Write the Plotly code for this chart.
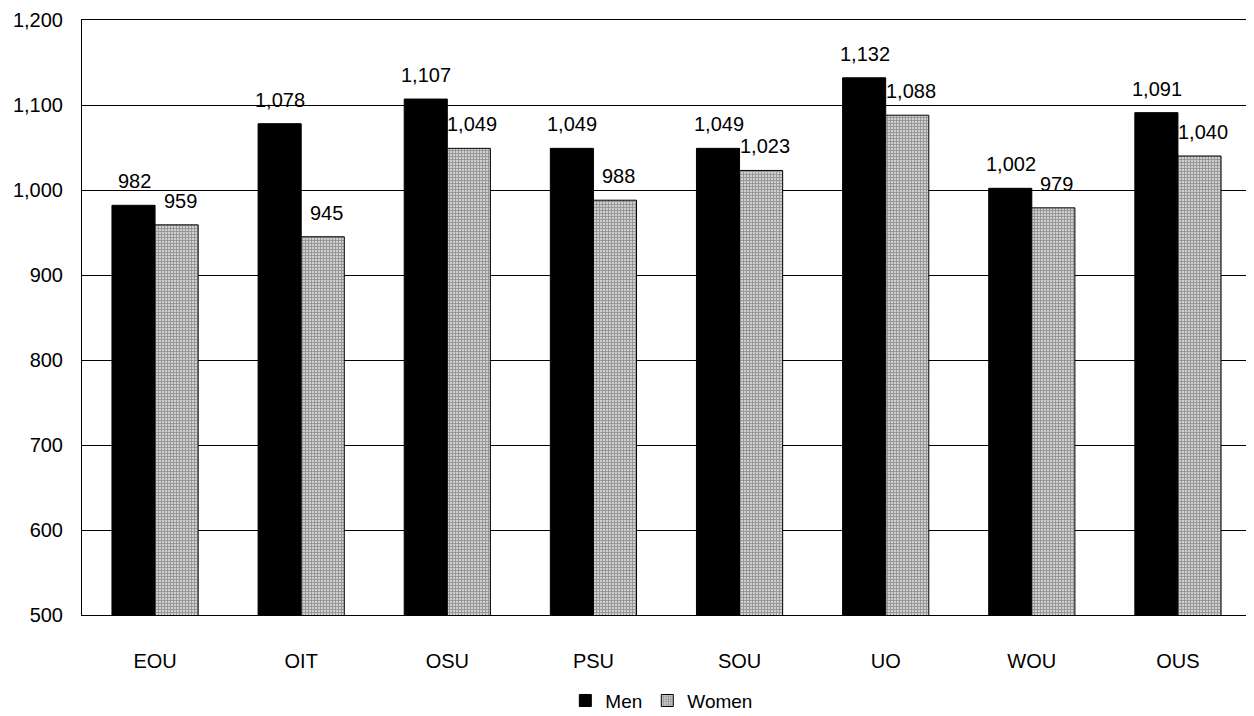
import plotly.graph_objects as go

categories = ["EOU", "OIT", "OSU", "PSU", "SOU", "UO", "WOU", "OUS"]
men = [982, 1078, 1107, 1049, 1049, 1132, 1002, 1091]
women = [959, 945, 1049, 988, 1023, 1088, 979, 1040]
y_ticks = [500, 600, 700, 800, 900, 1000, 1100, 1200]

font_family = "Liberation Sans, Arial, sans-serif"

fig = go.Figure()
fig.add_trace(go.Bar(
    x=categories, y=men, name="Men",
    marker=dict(color="black", line=dict(color="black", width=1)),
))
fig.add_trace(go.Bar(
    x=categories, y=women, name="Women",
    marker=dict(color="#a8a8a8", line=dict(color="black", width=1),
                pattern=dict(shape="+", size=3, solidity=0.5,
                             fgcolor="#555555", bgcolor="#d0d0d0")),
))

# value labels above bars
for series, shift in ((men, -21), (women, 25)):
    for c, v in zip(categories, series):
        fig.add_annotation(
            x=c, y=v, xref="x", yref="y", text=f"{v:,}", showarrow=False,
            xshift=shift, yshift=24, font=dict(size=20, color="black", family=font_family),
        )

fig.update_layout(
    width=1254, height=716,
    margin=dict(l=74, r=11, t=12, b=109, autoexpand=False),
    paper_bgcolor="white", plot_bgcolor="white",
    barmode="group", bargap=0.41, bargroupgap=0,
    font=dict(family=font_family, size=20, color="black"),
    showlegend=True,
    legend=dict(orientation="h", x=0.496, xanchor="center", y=-0.112, yanchor="top",
                font=dict(size=19), itemwidth=30, tracegroupgap=0),
)
fig.update_yaxes(
    range=[500, 1200], tickvals=y_ticks, tickformat=",",
    showgrid=True, gridcolor="black", gridwidth=1,
    showline=True, linecolor="black", linewidth=1, mirror=True,
    ticks="", ticklabelstandoff=14, tickfont=dict(size=20),
    zeroline=False, automargin=False,
)
fig.update_xaxes(
    showline=True, linecolor="black", linewidth=1, mirror=True,
    ticks="", ticklabelstandoff=28, tickfont=dict(size=20), automargin=False,
)

fig.write_html("out.html")
